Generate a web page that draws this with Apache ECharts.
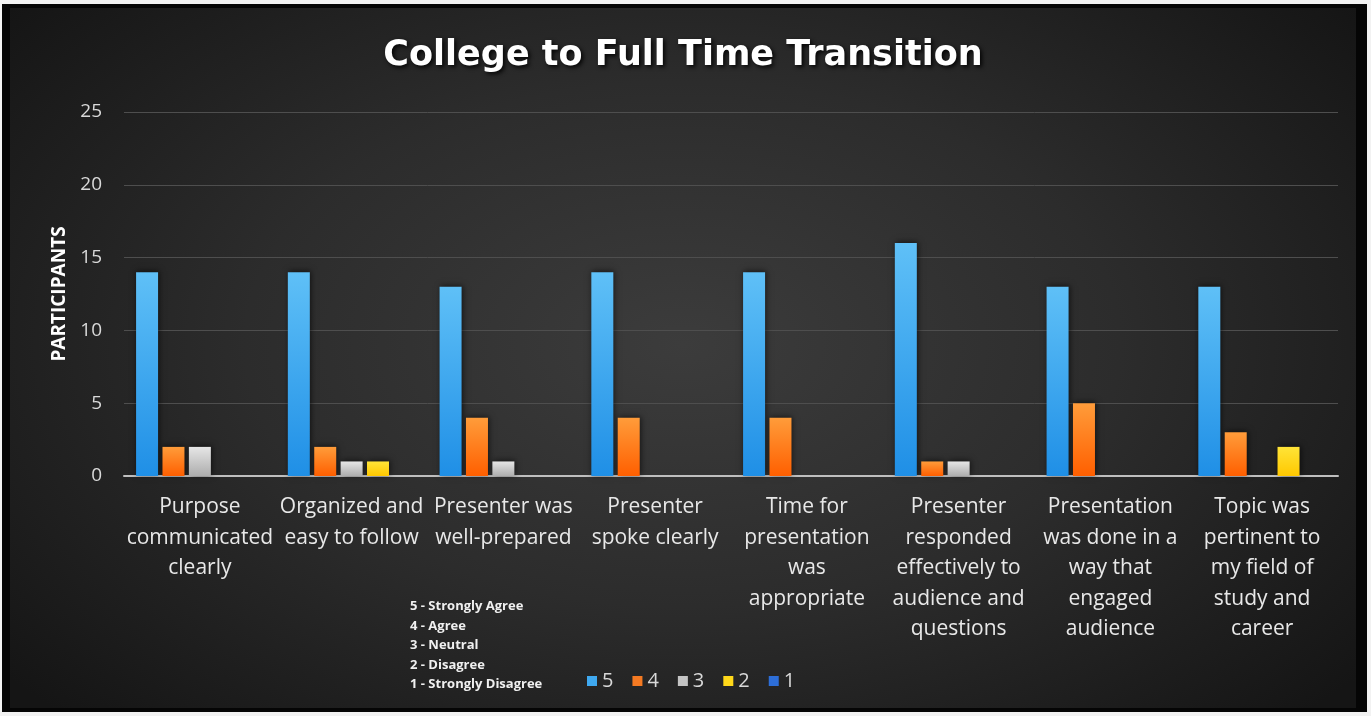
<!DOCTYPE html>
<html>
<head>
<meta charset="utf-8">
<script src="https://cdn.jsdelivr.net/npm/echarts@6/dist/echarts.min.js"></script>
<style>
  html, body { margin: 0; padding: 0; background: #f2f2f2; }
  #frame { position: absolute; left: 2px; top: 4px; width: 1365px; height: 708px; background: #050505; }
  #chart { position: absolute; left: 8px; top: 4px; width: 1346px; height: 700px;
    background: radial-gradient(ellipse 65% 75% at 50% 48%, #3c3c3c 0%, #2c2c2c 50%, #151515 100%); }
</style>
</head>
<body>
<div id="frame"><div id="chart"></div></div>
<script>
const categories = [
  "Purpose\ncommunicated\nclearly",
  "Organized and\neasy to follow",
  "Presenter was\nwell-prepared",
  "Presenter\nspoke clearly",
  "Time for\npresentation\nwas\nappropriate",
  "Presenter\nresponded\neffectively to\naudience and\nquestions",
  "Presentation\nwas done in a\nway that\nengaged\naudience",
  "Topic was\npertinent to\nmy field of\nstudy and\ncareer"
];
const seriesNames = ["5", "4", "3", "2", "1"];
const s5 = [14, 14, 13, 14, 14, 16, 13, 13];
const s4 = [2, 2, 4, 4, 4, 1, 5, 3];
const s3 = [2, 1, 1, 0, 0, 1, 0, 0];
const s2 = [0, 1, 0, 0, 0, 0, 0, 2];
const s1 = [0, 0, 0, 0, 0, 0, 0, 0];
const yTicks = [0, 5, 10, 15, 20, 25];
const scaleNotes = ["5 - Strongly Agree", "4 - Agree", "3 - Neutral", "2 - Disagree", "1 - Strongly Disagree"];

const grad = (top, bottom) => new echarts.graphic.LinearGradient(0, 0, 0, 1, [
  { offset: 0, color: top }, { offset: 1, color: bottom }
]);
const fills = [
  grad('#5fc0f7', '#1f8fe6'),
  grad('#ff9c3a', '#ff5f00'),
  grad('#e6e6e6', '#adadad'),
  grad('#ffe438', '#ffc800'),
  grad('#3f80e0', '#1c5cc4')
];
const legendColors = ['#3fa9f0', '#f57a22', '#c4c4c4', '#ffd81a', '#2d6ed8'];
const allData = [s5, s4, s3, s2, s1];

const chart = echarts.init(document.getElementById('chart'));
const fontFam = 'Open Sans, Lato, sans-serif';
chart.setOption({
  backgroundColor: 'transparent',
  animation: false,
  title: {
    text: 'College to Full Time Transition',
    left: 'center', top: 25,
    textStyle: { color: '#ffffff', fontSize: 35, fontWeight: 'bold', fontFamily: 'DejaVu Sans, sans-serif',
      textShadowColor: 'rgba(0,0,0,0.9)', textShadowBlur: 4, textShadowOffsetX: 2, textShadowOffsetY: 2 }
  },
  grid: { left: 114, right: 18, top: 104, bottom: 232 },
  legend: {
    bottom: 12, left: 572,
    data: seriesNames.map((n, i) => ({ name: n, itemStyle: { color: legendColors[i] } })),
    itemWidth: 10, itemHeight: 10, itemGap: 19,
    icon: 'rect',
    textStyle: { color: '#d9d9d9', fontSize: 20, fontFamily: fontFam }
  },
  xAxis: {
    type: 'category', data: categories,
    axisLine: { lineStyle: { color: '#bfbfbf', width: 2 } },
    axisTick: { show: false },
    axisLabel: { color: '#e8e8e8', fontSize: 21, lineHeight: 30.5, interval: 0, margin: 16, fontFamily: fontFam }
  },
  yAxis: {
    type: 'value', min: 0, max: 25, interval: 5,
    name: 'PARTICIPANTS', nameLocation: 'middle', nameGap: 54, nameRotate: 90,
    nameTextStyle: { color: '#ffffff', fontSize: 19, fontWeight: 'bold', fontFamily: fontFam },
    axisLabel: { color: '#d9d9d9', fontSize: 19, margin: 22, fontFamily: fontFam,
      formatter: v => yTicks.includes(v) ? String(v) : '' },
    splitLine: { lineStyle: { color: '#4e4e4e', width: 1 } },
    axisLine: { show: false }, axisTick: { show: false }
  },
  graphic: scaleNotes.map((t, i) => ({
    type: 'text', left: 400, top: 592 + i * 19.5,
    style: { text: t, fill: '#f0f0f0', fontSize: 13, fontWeight: 'bold', fontFamily: fontFam }
  })),
  series: seriesNames.map((n, i) => ({
    name: n, type: 'bar', data: allData[i],
    barWidth: 22, barGap: '20%',
    itemStyle: { color: fills[i], shadowColor: 'rgba(0,0,0,0.6)', shadowBlur: 6, shadowOffsetX: 1, shadowOffsetY: -1 }
  }))
});
</script>
</body>
</html>
